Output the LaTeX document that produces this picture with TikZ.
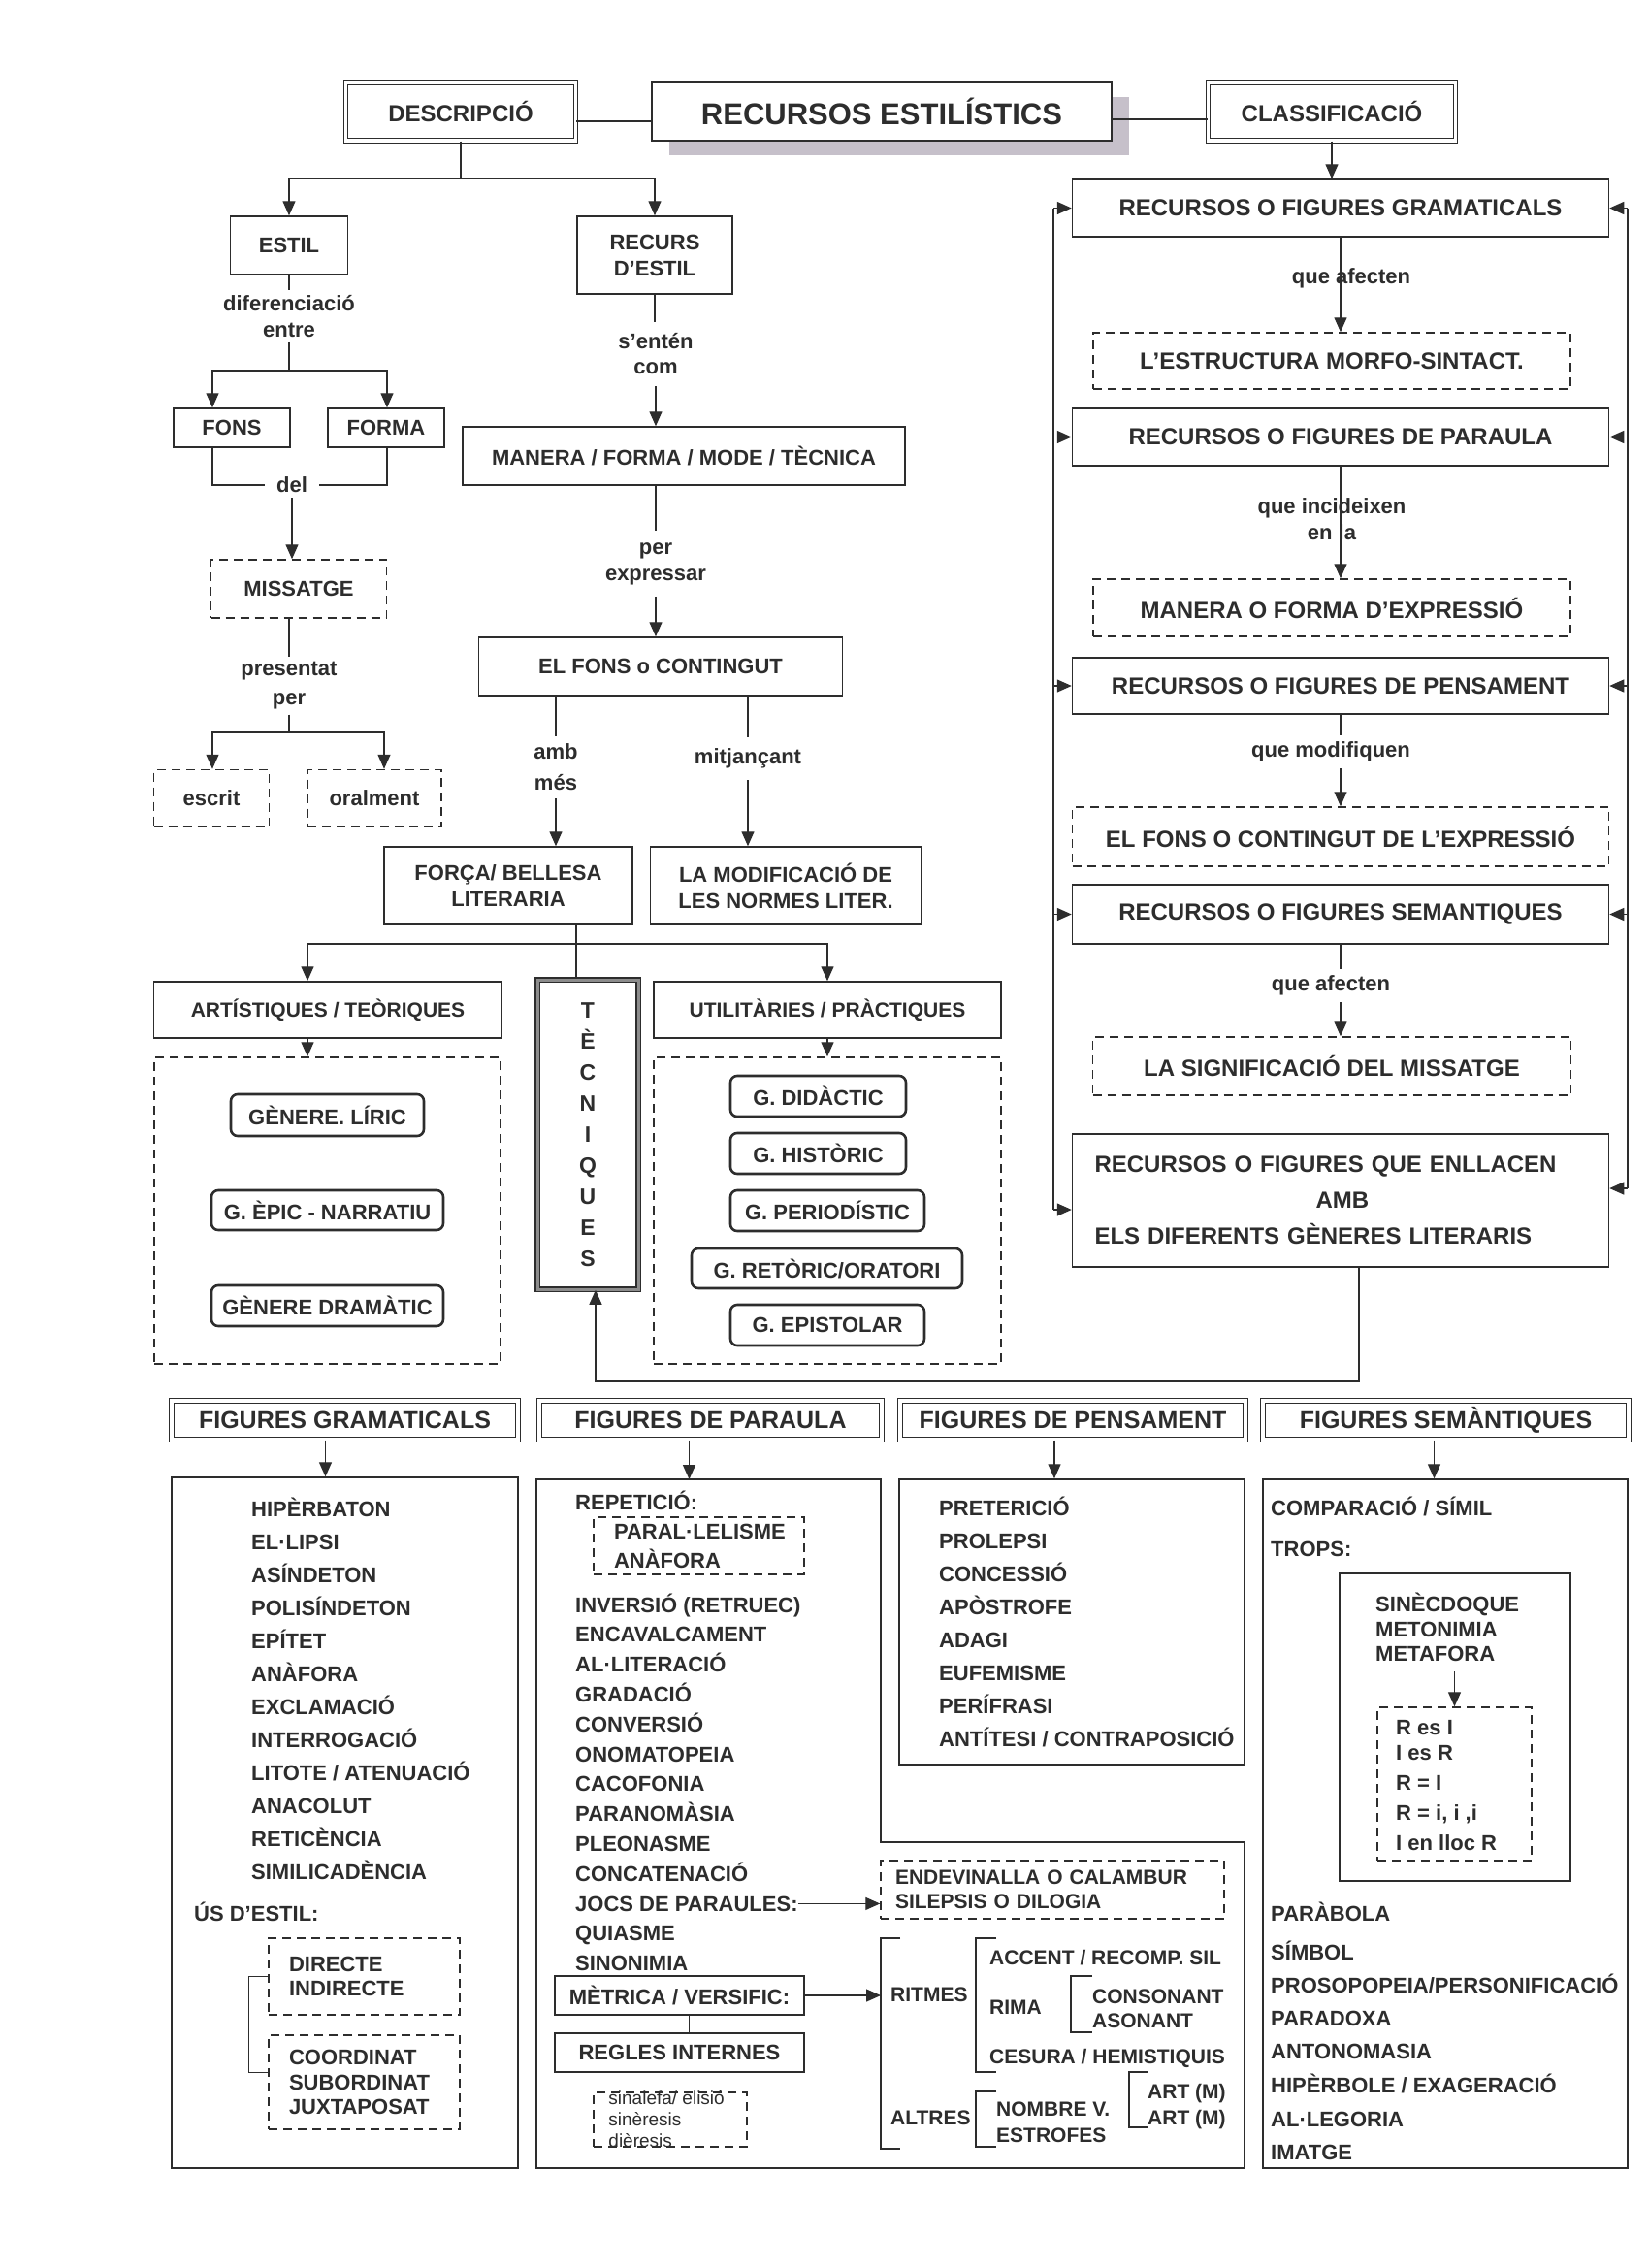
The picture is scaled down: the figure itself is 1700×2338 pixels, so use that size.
\documentclass[tikz,border=0pt]{standalone}
\usepackage{fontspec}
\setmainfont{Liberation Sans}
\usetikzlibrary{arrows.meta,positioning,shadows}

\definecolor{ink}{RGB}{45,45,45}
\definecolor{shade}{RGB}{198,192,202}

\newcommand{\labfont}{\fontsize{22}{27}\selectfont\bfseries}
\newcommand{\bigfont}{\fontsize{24}{29}\selectfont\bfseries}
\newcommand{\titlefont}{\fontsize{31}{36}\selectfont\bfseries}
\newcommand{\headfont}{\fontsize{25}{30}\selectfont\bfseries}
\newcommand{\itemfont}{\fontsize{22}{25}\selectfont\bfseries}
\newcommand{\sinfont}{\fontsize{19}{22}\selectfont}

\tikzset{
  box/.style={draw=ink, line width=1.5pt, text=ink, font=\labfont, align=center,
              inner sep=0pt, fill=white},
  dbox/.style={box, double, double distance=3.5pt, line width=1.2pt},
  dashbox/.style={box, dash pattern=on 9pt off 6pt},
  pill/.style={box, line width=2.6pt, rounded corners=7pt},
  lab/.style={text=ink, font=\labfont, align=center, inner xsep=2pt, inner ysep=5pt},
  item/.style={text=ink, font=\itemfont, anchor=base west, inner sep=0pt},
  con/.style={draw=ink, line width=1.4pt},
  arr/.style={con, -{Triangle[width=13pt,length=15pt]}},
  brak/.style={draw=ink, line width=1.3pt},
}

\begin{document}
\begin{tikzpicture}[x=1pt,y=-1pt]
\useasboundingbox (0,0) rectangle (1700,2338);
\fill[white] (0,0) rectangle (1700,2338);

% title row
\node[dbox, font=\bigfont, minimum width=237, minimum height=60] (desc) at (475,115) {DESCRIPCIÓ};
\node[box, font=\titlefont, minimum width=474, minimum height=60,
      drop shadow={shadow xshift=18pt, shadow yshift=-15pt, fill=shade, opacity=1}] (title) at (909,115) {RECURSOS ESTILÍSTICS};
\node[dbox, font=\bigfont, minimum width=255, minimum height=60] (class) at (1373,115) {CLASSIFICACIÓ};
\draw[con] ([yshift=-10pt]desc.east) -- ([yshift=-10pt]title.west);
\draw[con] ([yshift=-8pt]title.east) -- ([yshift=-8pt]class.west);

% descripcio: estil
\node[box, minimum width=121, minimum height=60] (estil) at (298,253) {ESTIL};
\node[box, minimum width=120, minimum height=40] (fons) at (239,441) {FONS};
\node[box, minimum width=120, minimum height=40] (forma) at (398,441) {FORMA};
\node[dashbox, minimum width=181, minimum height=60] (missatge) at (308,607) {MISSATGE};
\node[dashbox, minimum width=119, minimum height=59] (escrit) at (218,823) {escrit};
\node[dashbox, minimum width=138, minimum height=59] (oral) at (386,823) {oralment};

\node[lab] (difer) at (298,326) {diferenciació\\entre};
\node[lab, inner xsep=12pt] (del) at (301,500) {del};
\node[lab, font={\fontsize{22}{30}\selectfont\bfseries}] (present) at (298,707) {presentat\\per};

\coordinate (dsplit) at (475,184);
\coordinate (fsplit) at (298,382);
\coordinate (fl) at (219,382);
\coordinate (fr) at (399,382);
\coordinate (esplit) at (298,755);
\coordinate (el) at (219,755);
\coordinate (er) at (396,755);

\draw[con] (desc.south) -- (dsplit);
\draw[arr] (dsplit) -| (estil.north);
\draw[con] (estil.south) -- (difer.north);
\draw[con] (difer.south) -- (fsplit);
\draw[arr] (fsplit) -- (fl) -- (fl |- fons.north);
\draw[arr] (fsplit) -- (fr) -- (fr |- forma.north);
\draw[con] (fl |- fons.south) |- (del.west);
\draw[con] (fr |- forma.south) |- (del.east);
\draw[arr] (del.south) -- (del.south |- missatge.north);
\draw[con] (present.north |- missatge.south) -- (present.north);
\draw[con] (present.south) -- (esplit);
\draw[arr] (esplit) -- (el) -- (el |- escrit.north);
\draw[arr] (esplit) -- (er) -- (er |- oral.north);

% descripcio: recurs d'estil
\node[box, minimum width=160, minimum height=80] (recurs) at (675,263) {RECURS\\D’ESTIL};
\node[box, minimum width=456, minimum height=60] (manera) at (705,470) {MANERA / FORMA / MODE / TÈCNICA};
\node[box, minimum width=375, minimum height=60] (contingut) at (681,687) {EL FONS o CONTINGUT};
\node[box, minimum width=256, minimum height=80] (forca) at (524,913) {FORÇA/ BELLESA\\LITERARIA};
\node[box, minimum width=279, minimum height=80] (modif) at (810,913) {LA MODIFICACIÓ DE\\LES NORMES LITER.};

\node[lab, inner ysep=12pt, font={\fontsize{22}{26}\selectfont\bfseries}] (sent) at (676,365) {s’entén\\com};
\node[lab, inner ysep=12pt] (perexp) at (676,581) {per\\expressar};
\node[lab, inner ysep=8pt, font={\fontsize{22}{32}\selectfont\bfseries}] (amb) at (573,791) {amb\\més};
\node[lab, inner ysep=12pt] (mitj) at (771,782) {mitjançant};

\draw[arr] (dsplit) -| (recurs.north);
\draw[con] (recurs.south) -- (recurs.south |- sent.north);
\draw[arr] (sent.south) -- (sent.south |- manera.north);
\draw[con] (perexp.north |- manera.south) -- (perexp.north);
\draw[arr] (perexp.south) -- (perexp.south |- contingut.north);
\draw[con] (amb.north |- contingut.south) -- (amb.north);
\draw[arr] (amb.south) -- (amb.south |- forca.north);
\draw[con] (mitj.north |- contingut.south) -- (mitj.north);
\draw[arr] (mitj.south) -- (mitj.south |- modif.north);

% generes
\node[box, font={\fontsize{21}{25}\selectfont\bfseries}, minimum width=359, minimum height=58] (artist) at (338,1041) {ARTÍSTIQUES / TEÒRIQUES};
\node[box, font={\fontsize{21}{25}\selectfont\bfseries}, minimum width=358, minimum height=58] (utilit) at (853,1041) {UTILITÀRIES / PRÀCTIQUES};
\node[box, double=black!45, double distance=3pt, line width=1.6pt,
      font={\fontsize{23}{32}\selectfont\bfseries}, minimum width=104, minimum height=319] (techn) at (606,1169.5)
      {T\\È\\C\\N\\I\\Q\\U\\E\\S};
\node[dashbox, minimum width=357, minimum height=316] (genA) at (337.5,1248) {};
\node[dashbox, minimum width=358, minimum height=316] (genB) at (853,1248) {};

\node[pill, minimum width=199, minimum height=43] (liric) at (337.5,1149.5) {GÈNERE. LÍRIC};
\node[pill, minimum width=239, minimum height=41] (epic) at (337.5,1247.5) {G. ÈPIC - NARRATIU};
\node[pill, minimum width=239, minimum height=42] (drama) at (337.5,1346) {GÈNERE DRAMÀTIC};
\node[pill, minimum width=181, minimum height=42] (didac) at (843.5,1130) {G. DIDÀCTIC};
\node[pill, minimum width=181, minimum height=42] (histor) at (843.5,1189) {G. HISTÒRIC};
\node[pill, minimum width=200, minimum height=42] (period) at (853,1248) {G. PERIODÍSTIC};
\node[pill, minimum width=279, minimum height=41] (retor) at (852.5,1307.5) {G. RETÒRIC/ORATORI};
\node[pill, minimum width=200, minimum height=42] (epist) at (853,1366) {G. EPISTOLAR};

\coordinate (gsplit) at (594,973);
\draw[con] (forca.south -| gsplit) -- (gsplit);
\draw[arr] (gsplit) -| ([xshift=-21pt]artist.north);
\draw[arr] (gsplit) -| (utilit.north);
\draw[con] (gsplit) -- (gsplit |- techn.north);
\draw[arr] ([xshift=-21pt]artist.south) -- ([xshift=-21pt]artist.south |- genA.north);
\draw[arr] (utilit.south) -- (genB.north);

% classificacio
\node[box, font=\bigfont, minimum width=553, minimum height=59] (gram) at (1382,214.5) {RECURSOS O FIGURES GRAMATICALS};
\node[dashbox, font=\bigfont, minimum width=492, minimum height=58] (estruct) at (1373,372) {L’ESTRUCTURA MORFO-SINTACT.};
\node[box, font=\bigfont, minimum width=553, minimum height=59] (paraula) at (1382,450.5) {RECURSOS O FIGURES DE PARAULA};
\node[dashbox, font=\bigfont, minimum width=492, minimum height=59] (expr) at (1373,626.5) {MANERA O FORMA D’EXPRESSIÓ};
\node[box, font=\bigfont, minimum width=553, minimum height=58] (pensam) at (1382,707) {RECURSOS O FIGURES DE PENSAMENT};
\node[dashbox, font=\bigfont, minimum width=553, minimum height=61] (fonsexp) at (1382,862.5) {EL FONS O CONTINGUT DE L’EXPRESSIÓ};
\node[box, font=\bigfont, minimum width=553, minimum height=61] (semant) at (1382,942.5) {RECURSOS O FIGURES SEMANTIQUES};
\node[dashbox, font=\bigfont, minimum width=493, minimum height=60] (signif) at (1373,1099) {LA SIGNIFICACIÓ DEL MISSATGE};
\node[box, font={\fontsize{24}{37}\selectfont\bfseries}, align=left, text width=507, inner xsep=23pt,
      minimum height=137] (enllacen) at (1382,1237.5)
      {RECURSOS O FIGURES QUE ENLLACEN\\\hspace*{228pt}AMB\\ELS DIFERENTS GÈNERES LITERARIS};

\node[lab] (qaf1) at (1393,287) {que afecten};
\node[lab] (qinc) at (1373,535) {que incideixen\\en la};
\node[lab, inner ysep=7pt] (qmod) at (1372,775) {que modifiquen};
\node[lab, inner ysep=7pt] (qaf2) at (1372,1016) {que afecten};

\draw[arr] (class.south) -- (class.south |- gram.north);
\draw[arr] (gram.south) -- (gram.south |- estruct.north);
\draw[arr] (paraula.south) -- (paraula.south |- expr.north);
\draw[con] (pensam.south) -- (pensam.south |- qmod.north);
\draw[arr] (pensam.south |- qmod.south) -- (pensam.south |- fonsexp.north);
\draw[con] (semant.south) -- (semant.south |- qaf2.north);
\draw[arr] (semant.south |- qaf2.south) -- (semant.south |- signif.north);

\coordinate (lbT) at (1086,214.5);
\coordinate (lbB) at (1086,1247);
\coordinate (rbT) at (1678,214.5);
\coordinate (rbB) at (1678,1225);
\draw[con] (lbT) -- (lbB);
\draw[con] (rbT) -- (rbB);
\draw[arr] (lbT) -- (gram.west);
\draw[arr] (rbT) -- (gram.east);
\foreach \n in {paraula,pensam,semant}{
  \draw[arr] (lbT |- \n.west) -- (\n.west);
  \draw[arr] (rbT |- \n.east) -- (\n.east);
}
\draw[arr] (lbB) -- (lbB -| enllacen.west);
\draw[arr] (rbB) -- (rbB -| enllacen.east);

\coordinate (tturn) at (614,1424);
\draw[arr] ([xshift=19pt]enllacen.south) |- (tturn) -- (tturn |- techn.south);

% figures: headers
\node[dbox, font=\headfont, minimum width=357, minimum height=40] (hgram) at (355.5,1464) {FIGURES GRAMATICALS};
\node[dbox, font=\headfont, minimum width=353, minimum height=40] (hparau) at (732.5,1464) {FIGURES DE PARAULA};
\node[dbox, font=\headfont, minimum width=356, minimum height=40] (hpens) at (1106,1464) {FIGURES DE PENSAMENT};
\node[dbox, font=\headfont, minimum width=377, minimum height=40] (hsem) at (1490.5,1464) {FIGURES SEMÀNTIQUES};

\node[box, minimum width=357, minimum height=712] (cgram) at (355.5,1879) {};
\node[box, minimum width=356, minimum height=294] (cpens) at (1105,1672) {};
\node[box, minimum width=376, minimum height=710] (csem) at (1490,1880) {};
\coordinate (pTL) at (553,1525);
\draw[con, line width=1.5pt] (pTL) -- (908,1525) -- (908,1899) -- (1283,1899) -- (1283,2235) -- (553,2235) -- cycle;

\draw[arr] ([xshift=-20pt]hgram.south) -- ([xshift=-20pt]hgram.south |- cgram.north);
\draw[arr] ([xshift=-22pt]hparau.south) -- ([xshift=-22pt]hparau.south |- pTL);
\draw[arr] ([xshift=-19pt]hpens.south) -- ([xshift=-19pt]hpens.south |- cpens.north);
\draw[arr] ([xshift=-12pt]hsem.south) -- ([xshift=-12pt]hsem.south |- csem.north);

% figures gramaticals
\foreach \t [count=\i] in {HIPÈRBATON, EL·LIPSI, ASÍNDETON, POLISÍNDETON, EPÍTET, ANÀFORA,
    EXCLAMACIÓ, INTERROGACIÓ, LITOTE / ATENUACIÓ, ANACOLUT, RETICÈNCIA, SIMILICADÈNCIA}
  \node[item] (g\i) at (259,{1563+34*(\i-1)}) {\t};
\node[item] (us) at (200,1980) {ÚS D’ESTIL:};
\node[dashbox, font={\fontsize{22}{25}\selectfont\bfseries}, align=left, text width=155, inner xsep=21pt,
      minimum height=79] (dirbox) at (375.5,2037.5) {DIRECTE\\INDIRECTE};
\node[dashbox, font={\fontsize{22}{25.5}\selectfont\bfseries}, align=left, text width=155, inner xsep=21pt,
      minimum height=97] (coordbox) at (375.5,2146.5) {COORDINAT\\SUBORDINAT\\JUXTAPOSAT};
\draw[brak] (dirbox.west) -- ++(-20,0) |- ([yshift=10pt]coordbox.west);

% figures de paraula
\node[item] (repet) at (593,1556) {REPETICIÓ:};
\node[dashbox, font={\fontsize{22}{30}\selectfont\bfseries}, align=left, text width=175, inner xsep=21pt,
      minimum height=59] (parbox) at (720.5,1593.5) {PARAL·LELISME\\ANÀFORA};
\foreach \t [count=\i] in {INVERSIÓ (RETRUEC), ENCAVALCAMENT, AL·LITERACIÓ, GRADACIÓ, CONVERSIÓ,
    ONOMATOPEIA, CACOFONIA, PARANOMÀSIA, PLEONASME, CONCATENACIÓ, JOCS DE PARAULES:, QUIASME, SINONIMIA}
  \node[item] (p\i) at (593,{1662+30.8*(\i-1)}) {\t};
\node[dashbox, font={\fontsize{21}{25}\selectfont\bfseries}, align=left, text width=324, inner xsep=15pt,
      minimum height=60] (endev) at (1085,1948) {ENDEVINALLA O CALAMBUR\\SILEPSIS O DILOGIA};
\draw[arr] (p11.east) -- (p11.east -| endev.west);

\node[box, font=\itemfont, minimum width=257, minimum height=40] (metrica) at (700.5,2057) {MÈTRICA / VERSIFIC:};
\node[box, font=\itemfont, minimum width=257, minimum height=40] (regles) at (700.5,2116) {REGLES INTERNES};
\draw[con] ([xshift=10pt]metrica.south) -- ([xshift=10pt]regles.north);
\node[dashbox, minimum width=158, minimum height=56] (sinbox) at (691,2185) {};
\node[text=ink, font=\sinfont, align=left, anchor=west, inner sep=0pt] (sintxt) at ([xshift=16pt]sinbox.west)
      {sinalefa/ elisió\\sinèresis\\dièresis};

\coordinate (brT) at (908,1998);
\coordinate (brB) at (908,2215);
\draw[brak] (928,1998) -- (brT) -- (brB) -- (928,2215);
\draw[arr] (metrica.east) -- (metrica.east -| brT);
\draw[brak] (1027,1998) -- (1006,1998) -- (1006,2136) -- (1027,2136);
\draw[brak] (1126,2037) -- (1104,2037) -- (1104,2095) -- (1126,2095);
\draw[brak] (1027,2156) -- (1006,2156) -- (1006,2213) -- (1027,2213);
\draw[brak] (1183,2136) -- (1164,2136) -- (1164,2193) -- (1183,2193);

\begin{scope}[every node/.style={item, font={\fontsize{21}{25}\selectfont\bfseries}}]
\node (ritmes) at (918,2063) {RITMES};
\node (altres) at (918,2190) {ALTRES};
\node (accent) at (1020,2025) {ACCENT / RECOMP. SIL};
\node (rima) at (1020,2076) {RIMA};
\node (conson) at (1126,2065) {CONSONANT};
\node (asonan) at (1126,2090) {ASONANT};
\node (cesura) at (1020,2127) {CESURA / HEMISTIQUIS};
\node (nombre) at (1027,2181) {NOMBRE V.};
\node (estrof) at (1027,2208) {ESTROFES};
\node (artm) at (1183,2163) {ART (M)};
\node (artmm) at (1183,2190) {ART (M)};
\end{scope}

% figures de pensament
\foreach \t [count=\i] in {PRETERICIÓ, PROLEPSI, CONCESSIÓ, APÒSTROFE, ADAGI, EUFEMISME, PERÍFRASI,
    ANTÍTESI / CONTRAPOSICIÓ}
  \node[item] (n\i) at (968,{1562+34*(\i-1)}) {\t};

% figures semantiques
\node[item] (compar) at (1310,1562) {COMPARACIÓ / SÍMIL};
\node[item] (trops) at (1310,1604) {TROPS:};
\node[box, minimum width=238, minimum height=317] (tropsbox) at (1500,1780.5) {};
\node[dashbox, minimum width=159, minimum height=158] (rbox) at (1499.5,1839) {};
\foreach \t/\y [count=\i] in {SINÈCDOQUE/1661, METONIMIA/1687, METAFORA/1712}
  \node[item] (t\i) at (1418,\y) {\t};
\draw[arr] (rbox.north |- t3.south) ++(0,11) -- (rbox.north);
\foreach \t/\y [count=\i] in {R es I/1788, I es R/1814, R = I/1845, {R = i, i ,i}/1876, I en lloc R/1907}
  \node[item] (r\i) at (1439,\y) {\t};
\foreach \t/\y [count=\i] in {PARÀBOLA/1980, SÍMBOL/2020, {PROSOPOPEIA/PERSONIFICACIÓ}/2054, PARADOXA/2088,
    ANTONOMASIA/2122, {HIPÈRBOLE / EXAGERACIÓ}/2157, AL·LEGORIA/2192, IMATGE/2226}
  \node[item] (s\i) at (1310,\y) {\t};

\end{tikzpicture}
\end{document}
